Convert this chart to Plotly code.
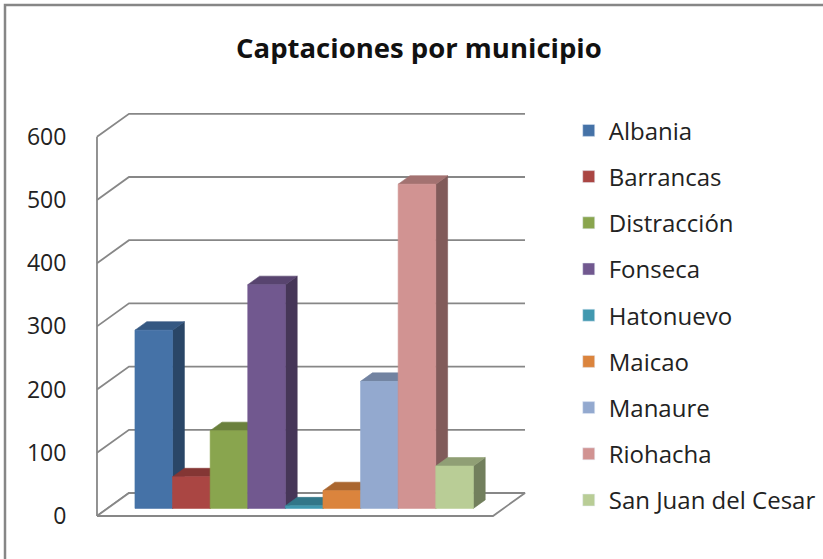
import plotly.graph_objects as go

# ---------------- data ----------------
municipios = ["Albania", "Barrancas", "Distracción", "Fonseca", "Hatonuevo",
              "Maicao", "Manaure", "Riohacha", "San Juan del Cesar"]
captaciones = [282, 50, 123, 354, 4, 28, 201, 513, 67]
colores = ["#4572A7", "#AA4643", "#89A54E", "#71588F", "#4198AF",
           "#DB843D", "#93A9CF", "#D19392", "#B9CD96"]
y_ticks = [0, 100, 200, 300, 400, 500, 600]
titulo = "Captaciones por municipio"

# ---------------- oblique 3D projection settings ----------------
DX, DY = 0.851, 36.4      # shift of the back plane (x units, value units)
ZF, ZB = 0.33, 0.70       # bar depth (front/back fraction)
XA, XB = -0.729, 9.803    # floor extent on the front plane
GRID = "#878787"
FONT = "Open Sans"


def proj(x, v, z):
    return x + z * DX, v + z * DY


def shade(hexc, f):
    h = hexc.lstrip("#")
    r, g, b = (int(h[i:i + 2], 16) for i in (0, 2, 4))
    return "rgb(%d,%d,%d)" % (r * f, g * f, b * f)


def poly(pts, color):
    xs = [p[0] for p in pts] + [pts[0][0]]
    ys = [p[1] for p in pts] + [pts[0][1]]
    return go.Scatter(x=xs, y=ys, mode="lines", fill="toself", fillcolor=color,
                      line=dict(color=color, width=0.6), showlegend=False,
                      hoverinfo="skip")


fig = go.Figure()

# walls: gridlines (left wall diagonal + back wall horizontal)
for k in y_ticks:
    p0 = proj(XA, k, 0)
    p1 = proj(XA, k, 1)
    p2 = proj(XB, k, 1)
    fig.add_trace(go.Scatter(x=[p0[0], p1[0], p2[0]], y=[p0[1], p1[1], p2[1]],
                             mode="lines", line=dict(color=GRID, width=1.8),
                             showlegend=False, hoverinfo="skip"))
# front vertical axis line
fig.add_trace(go.Scatter(x=[XA, XA], y=[y_ticks[0], y_ticks[-1]], mode="lines",
                         line=dict(color=GRID, width=1.8), showlegend=False,
                         hoverinfo="skip"))
# floor
floor = [proj(XA, 0, 0), proj(XB, 0, 0), proj(XB, 0, 1), proj(XA, 0, 1)]
fig.add_trace(go.Scatter(x=[p[0] for p in floor] + [floor[0][0]],
                         y=[p[1] for p in floor] + [floor[0][1]],
                         mode="lines", fill="toself", fillcolor="white",
                         line=dict(color=GRID, width=1.8), showlegend=False,
                         hoverinfo="skip"))

# bars (front, top, right side faces)
for i, (v, c) in enumerate(zip(captaciones, colores)):
    x0, x1 = i, i + 1
    front = [proj(x0, 0, ZF), proj(x1, 0, ZF), proj(x1, v, ZF), proj(x0, v, ZF)]
    top = [proj(x0, v, ZF), proj(x1, v, ZF), proj(x1, v, ZB), proj(x0, v, ZB)]
    side = [proj(x1, 0, ZF), proj(x1, 0, ZB), proj(x1, v, ZB), proj(x1, v, ZF)]
    fig.add_trace(poly(side, shade(c, 0.62)))
    fig.add_trace(poly(top, shade(c, 0.78)))
    fig.add_trace(poly(front, c))

# legend proxies
for name, c in zip(municipios, colores):
    fig.add_trace(go.Bar(x=[None], y=[None], name=name, marker=dict(color=c),
                         legendgroup=name, showlegend=True))

fig.update_layout(
    width=823, height=559,
    margin=dict(l=90, r=293, t=104, b=25, autoexpand=False),
    paper_bgcolor="white", plot_bgcolor="white",
    title=dict(text=titulo, x=0.509, xref="container", y=0.914, yref="container",
               xanchor="center", yanchor="middle",
               font=dict(family=FONT, size=27.5, color="#111", weight="bold")),
    xaxis=dict(range=[-0.9149, 10.787], showgrid=False, zeroline=False,
               showticklabels=False, showline=False, fixedrange=True),
    yaxis=dict(range=[-28.5, 651.9], showgrid=False, zeroline=False,
               showline=False, tickvals=y_ticks, ticktext=[str(t) for t in y_ticks],
               ticks="outside", ticklen=18, tickcolor="rgba(0,0,0,0)",
               tickfont=dict(family=FONT, size=23, color="#222"), fixedrange=True),
    legend=dict(x=1.088, y=0.99, xanchor="left", yanchor="top",
                font=dict(family=FONT, size=24, color="#222"),
                traceorder="grouped", tracegroupgap=12, maxheight=520,
                bgcolor="rgba(0,0,0,0)"),
    showlegend=True,
    shapes=[dict(type="rect", xref="paper", yref="paper",
                 x0=(5 - 90) / 440, x1=(830 - 90) / 440,
                 y0=(534 - 565) / 430, y1=(534 - 5) / 430,
                 line=dict(color="#868686", width=2.5), fillcolor="rgba(0,0,0,0)",
                 layer="below")],
)

fig.write_html("out.html", config={"displayModeBar": False},
               post_script="document.body.style.margin='0px';")
